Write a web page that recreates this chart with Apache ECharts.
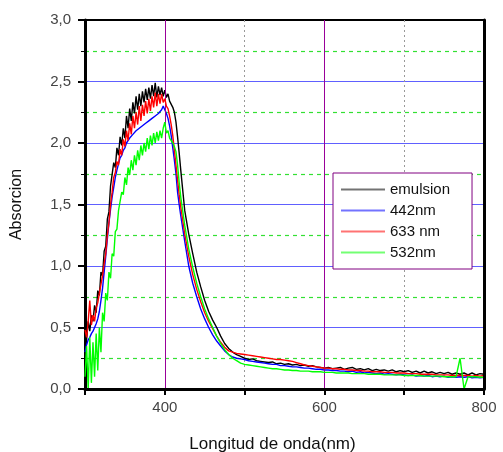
<!DOCTYPE html>
<html><head><meta charset="utf-8">
<script src="https://cdn.jsdelivr.net/npm/echarts@6/dist/echarts.min.js"></script>
<style>html,body{margin:0;padding:0;background:#fff}#c{width:503px;height:452px}</style>
</head><body><div id="c"></div>
<script>
var wavelength = [300,302,304,306,308,310,312,314,316,318,320,322,324,326,328,330,332,334,336,338,340,342,344,346,348,350,352,354,356,358,360,362,364,366,368,370,372,374,376,378,380,382,384,386,388,390,392,394,396,398,400,402,404,406,408,410,412,414,416,418,420,
425,430,435,440,445,450,455,460,465,470,475,480,485,490,495,500,
505,510,515,520,525,530,535,540,545,550,555,560,565,570,575,580,585,590,595,600,605,610,615,620,625,630,635,640,645,650,655,660,665,670,675,680,685,690,695,700,705,710,715,720,725,730,735,740,745,750,755,760,765,770,775,780,785,790,795,800];

var emulsion = [0.50,0.40,0.55,0.47,0.60,0.55,0.68,0.62,0.80,0.76,
0.95,0.92,1.12,1.16,1.38,1.44,1.65,1.66,1.84,1.80,
1.96,1.90,2.05,1.98,2.12,2.04,2.22,2.12,2.28,2.18,
2.33,2.24,2.38,2.27,2.40,2.30,2.42,2.33,2.44,2.35,
2.45,2.36,2.47,2.38,2.49,2.37,2.46,2.39,2.45,2.38,
2.43,2.37,2.40,2.34,2.33,2.29,2.25,2.17,2.05,1.92,
1.78,
1.45,1.26,1.10,0.95,0.83,0.72,0.63,0.56,0.50,0.43,0.37,0.33,0.30,0.28,0.265,0.25,
0.24,0.245,0.23,0.225,0.22,0.215,0.22,0.205,0.21,0.2,
0.205,0.195,0.2,0.19,0.195,0.185,0.19,0.18,0.175,0.17,
0.175,0.165,0.17,0.175,0.16,0.17,0.175,0.16,0.165,0.155,
0.165,0.15,0.16,0.15,0.155,0.145,0.155,0.14,0.15,0.14,
0.15,0.135,0.145,0.13,0.145,0.13,0.14,0.125,0.135,0.125,
0.135,0.12,0.13,0.12,0.13,0.115,0.13,0.115,0.125,0.12];

var nm442 = [0.30,0.36,0.40,0.42,0.45,0.47,0.50,0.53,0.57,0.63,
0.72,0.82,0.95,1.08,1.22,1.35,1.46,1.56,1.64,1.72,
1.78,1.83,1.88,1.90,1.94,1.96,2.00,1.99,2.04,2.03,
2.07,2.06,2.10,2.09,2.12,2.11,2.14,2.13,2.16,2.15,
2.18,2.17,2.20,2.19,2.22,2.21,2.24,2.24,2.27,2.30,
2.27,2.24,2.20,2.14,2.06,1.96,1.86,1.75,1.60,1.50,
1.41,
1.20,1.00,0.86,0.75,0.65,0.57,0.50,0.44,0.39,0.35,0.31,0.28,0.26,0.25,0.245,0.24,
0.23,0.225,0.22,0.215,0.21,0.205,0.2,0.2,0.19,0.19,
0.185,0.18,0.18,0.175,0.17,0.17,0.165,0.16,0.16,0.155,
0.155,0.15,0.15,0.145,0.145,0.14,0.145,0.135,0.14,0.13,
0.135,0.13,0.125,0.13,0.12,0.125,0.12,0.115,0.12,0.115,
0.11,0.115,0.105,0.11,0.105,0.11,0.1,0.105,0.1,0.105,
0.095,0.1,0.095,0.1,0.095,0.1,0.09,0.095,0.09,0.095];

var nm633 = [0.48,0.42,0.55,0.72,0.52,0.60,0.55,0.66,0.70,0.78,
0.85,0.92,1.02,1.10,1.25,1.35,1.50,1.60,1.72,1.76,
1.85,1.82,1.95,1.90,2.03,1.97,2.10,2.02,2.16,2.07,
2.22,2.12,2.25,2.15,2.30,2.18,2.31,2.22,2.34,2.24,
2.36,2.26,2.38,2.29,2.41,2.30,2.40,2.32,2.40,2.33,
2.36,2.30,2.28,2.22,2.15,2.06,1.94,1.82,1.70,1.58,
1.48,
1.26,1.08,0.93,0.81,0.71,0.62,0.55,0.49,0.43,0.38,0.34,0.31,0.30,0.29,0.285,0.28,
0.275,0.27,0.265,0.26,0.255,0.25,0.245,0.24,0.24,0.235,
0.23,0.225,0.215,0.205,0.195,0.19,0.185,0.18,0.175,0.17,
0.17,0.165,0.165,0.16,0.16,0.155,0.155,0.15,0.15,0.145,
0.145,0.14,0.14,0.14,0.135,0.135,0.135,0.13,0.13,0.13,
0.125,0.125,0.125,0.12,0.12,0.12,0.12,0.115,0.115,0.115,
0.115,0.11,0.11,0.11,0.11,0.11,0.105,0.11,0.105,0.11];

var nm532 = [0.10,0.35,0.00,0.42,0.05,0.38,0.10,0.45,0.15,0.50,
0.30,0.62,0.55,0.78,0.72,0.95,0.90,1.10,1.08,1.28,
1.30,1.45,1.45,1.60,1.58,1.72,1.66,1.80,1.74,1.86,
1.78,1.90,1.82,1.94,1.86,1.98,1.90,2.00,1.93,2.04,
1.95,2.06,1.98,2.08,2.00,2.09,2.02,2.10,2.04,2.12,
2.17,2.08,2.10,2.04,2.03,2.00,1.97,1.93,1.82,1.68,
1.56,
1.33,1.14,0.99,0.86,0.75,0.65,0.57,0.50,0.43,0.37,0.32,0.28,0.25,0.23,0.21,0.20,
0.195,0.19,0.185,0.18,0.175,0.17,0.165,0.165,0.16,0.155,
0.155,0.15,0.15,0.145,0.145,0.145,0.14,0.14,0.14,0.135,
0.135,0.135,0.13,0.13,0.13,0.13,0.125,0.125,0.125,0.125,
0.12,0.12,0.12,0.12,0.115,0.115,0.115,0.115,0.115,0.11,
0.11,0.11,0.11,0.11,0.105,0.105,0.105,0.105,0.105,0.1,
0.1,0.1,0.1,0.25,0.0,0.1,0.1,0.1,0.095,0.095];

var seriesNames = ['emulsion', '442nm', '633 nm', '532nm'];
var seriesValues = [emulsion, nm442, nm633, nm532];
var seriesColors = ['#000000', '#0000ff', '#ff0000', '#00ff00'];
var purpleLines = [400, 600];
var xLabelsShown = [400, 600, 800];

function pairs(vals) { return wavelength.map(function (w, i) { return [w, vals[i]]; }); }

var FONT = 'Liberation Sans, Arial, sans-serif';
var chart = echarts.init(document.getElementById('c'), null, {renderer: 'canvas'});
var series = [{
  name: 'guide', type: 'line', data: [], z: 1, silent: true,
  markLine: {
    silent: true, symbol: 'none', label: {show: false},
    lineStyle: {color: '#990099', width: 1, type: 'solid', opacity: 1},
    data: purpleLines.map(function (v) { return {xAxis: v}; })
  }
}];
seriesNames.forEach(function (n, i) {
  series.push({
    name: n, type: 'line', data: pairs(seriesValues[i]), symbol: 'none', showSymbol: false,
    lineStyle: {color: seriesColors[i], width: 1.4}, itemStyle: {color: seriesColors[i]},
    animation: false, z: 3 + i
  });
});

chart.setOption({
  animation: false,
  grid: {left: 85, right: 19, top: 20, bottom: 63, containLabel: false, outerBoundsMode: 'none',
    show: true, borderColor: '#000', borderWidth: 2, backgroundColor: 'transparent'},
  legend: {
    data: seriesNames, orient: 'vertical', left: 333, top: 173,
    icon: 'rect', itemWidth: 44, itemHeight: 2, itemGap: 6,
    itemStyle: {opacity: 0.55},
    padding: [9, 22, 9, 8],
    backgroundColor: '#fff', borderColor: '#800080', borderWidth: 1,
    textStyle: {fontFamily: FONT, fontSize: 15, color: '#111'}
  },
  xAxis: [{
    type: 'value', min: 300, max: 800, interval: 100,
    name: 'Longitud de onda(nm)', nameLocation: 'middle', nameGap: 47,
    nameTextStyle: {fontFamily: FONT, fontSize: 17, color: '#111', padding: [0, 24, 0, 0]},
    axisLine: {lineStyle: {color: '#000', width: 3}},
    axisTick: {length: 6, lineStyle: {color: '#000', width: 2}},
    axisLabel: {fontFamily: FONT, fontSize: 15, color: '#444', margin: 11,
      formatter: function (v) { return xLabelsShown.indexOf(v) >= 0 ? String(v) : ''; }},
    splitLine: {show: true, showMinLine: false, showMaxLine: false, lineStyle: {color: '#999', type: [2, 3], width: 1}}
  }, {
    type: 'value', min: 300, max: 800, interval: 100, position: 'top', z: 10,
    axisLine: {show: true, lineStyle: {color: '#000', width: 2}},
    axisTick: {show: false}, axisLabel: {show: false}, splitLine: {show: false}
  }],
  yAxis: [{
    type: 'value', min: 0, max: 3, interval: 0.5,
    name: 'Absorcion', nameLocation: 'middle', nameGap: 60, nameRotate: 90,
    nameTextStyle: {fontFamily: FONT, fontSize: 16, color: '#111'},
    axisLine: {show: true, lineStyle: {color: '#000', width: 3}},
    axisTick: {show: true, length: 7, lineStyle: {color: '#000', width: 2}},
    minorTick: {show: true, splitNumber: 2, length: 4, lineStyle: {color: '#000', width: 1}},
    axisLabel: {fontFamily: FONT, fontSize: 15, color: '#444', margin: 14,
      formatter: function (v) { return v.toFixed(1).replace('.', ','); }},
    splitLine: {show: true, showMinLine: false, showMaxLine: false, lineStyle: {color: '#6060ff', width: 1.2}},
    minorSplitLine: {show: true, lineStyle: {color: '#33e033', type: [4, 4], width: 1.2}}
  }, {
    type: 'value', min: 0, max: 3, interval: 0.5, position: 'right', z: 10,
    axisLine: {show: true, lineStyle: {color: '#000', width: 3}},
    axisTick: {show: false}, axisLabel: {show: false}, splitLine: {show: false}
  }],
  series: series
});
</script>
</body></html>
